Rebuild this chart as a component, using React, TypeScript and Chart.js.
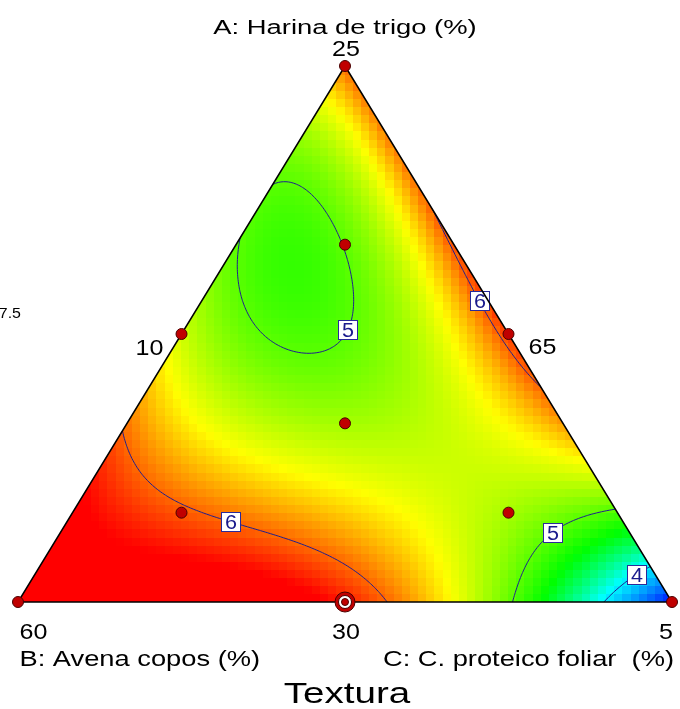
import React, { useEffect, useRef } from 'react';
import { Chart, registerables } from 'chart.js';

Chart.register(...registerables);

// Texture response read on a {3,6} simplex lattice (pseudo-components A, B, C).
// Each row keeps A fixed (row index = 6*A); entries run from the B side (C = 0) to the C side.
const rowA0 = [6.3, 6.58, 6.54, 6.2, 5.54, 4.5, 3.15];
const rowA1 = [6.45, 5.82, 5.86, 5.5, 5.2, 4.95];
const rowA2 = [5.9, 5.62, 5.38, 5.4, 5.9];
const rowA3 = [5.42, 4.8, 5.2, 6.02];
const rowA4 = [5.0, 4.98, 6.1];
const rowA5 = [5.15, 5.95];
const rowA6 = [5.95];
const latticeRows = [rowA0, rowA1, rowA2, rowA3, rowA4, rowA5, rowA6];

// Design runs (pseudo-component fractions) and number of replicates of each run.
const designA = [1, 0, 0, 0.5, 0.5, 0, 1 / 3, 2 / 3, 1 / 6, 1 / 6];
const designB = [0, 1, 0, 0.5, 0, 0.5, 1 / 3, 1 / 6, 2 / 3, 1 / 6];
const designC = [0, 0, 1, 0, 0.5, 0.5, 1 / 3, 1 / 6, 1 / 6, 2 / 3];
const designReps = [1, 1, 1, 1, 1, 2, 1, 1, 1, 1];

// Contour levels and where their labels sit along the curves.
const contourLevels = [4, 5, 6];
const labelLevel = [6, 5, 6, 5, 4];
const labelA = [0.569, 0.504, 0.155, 0.144, 0.059];
const labelB = [0.001, 0.235, 0.597, 0.118, 0.029];
const labelC = [0.43, 0.261, 0.248, 0.738, 0.912];

// Colour ramp break points: blue, cyan, green, yellow, red.
const colorStops = [3.1, 4.05, 4.7, 5.55, 6.3];
const colorRGB = [
  [0, 0, 255],
  [0, 255, 255],
  [0, 255, 0],
  [255, 255, 0],
  [255, 0, 0],
];

// Texts
const titleA = 'A: Harina de trigo (%)';
const titleB = 'B: Avena copos (%)';
const titleC = 'C: C. proteico foliar  (%)';
const responseName = 'Textura';
const tickA = '25';
const tickAB = '10';
const tickAC = '65';
const tickB = '60';
const tickBC = '30';
const tickC = '5';
const tickStray = '7.5';

const FONT = '"Liberation Sans", Arial, Helvetica, sans-serif';

// ---------- quartic Scheffé-type surface fitted by least squares ----------
const fact = (n: number): number => (n <= 1 ? 1 : n * fact(n - 1));
const terms: { i: number; j: number; k: number; m: number }[] = [];
for (let i = 4; i >= 0; i--) {
  for (let j = 4 - i; j >= 0; j--) {
    const k = 4 - i - j;
    terms.push({ i, j, k, m: fact(4) / (fact(i) * fact(j) * fact(k)) });
  }
}
const basis = (a: number, b: number, c: number) =>
  terms.map((t) => t.m * Math.pow(a, t.i) * Math.pow(b, t.j) * Math.pow(c, t.k));

function fitSurface(): number[] {
  const n = terms.length;
  const M: number[][] = Array.from({ length: n }, () => new Array(n + 1).fill(0));
  latticeRows.forEach((row, ia) => {
    row.forEach((v, ic) => {
      const a = ia / 6;
      const c = ic / 6;
      const b = 1 - a - c;
      const f = basis(a, b, c);
      for (let r = 0; r < n; r++) {
        for (let s = 0; s < n; s++) M[r][s] += f[r] * f[s];
        M[r][n] += f[r] * v;
      }
    });
  });
  for (let r = 0; r < n; r++) M[r][r] += 1e-10;
  for (let col = 0; col < n; col++) {
    let piv = col;
    for (let r = col + 1; r < n; r++) if (Math.abs(M[r][col]) > Math.abs(M[piv][col])) piv = r;
    [M[col], M[piv]] = [M[piv], M[col]];
    for (let r = 0; r < n; r++) {
      if (r === col) continue;
      const f = M[r][col] / M[col][col];
      for (let s = col; s <= n; s++) M[r][s] -= f * M[col][s];
    }
  }
  return M.map((row, r) => row[n] / row[r]);
}
const coef = fitSurface();
const predict = (a: number, b: number, c: number) => {
  const f = basis(a, b, c);
  let s = 0;
  for (let i = 0; i < f.length; i++) s += f[i] * coef[i];
  return s;
};

function rampColor(v: number): string {
  const n = colorStops.length;
  let rgb = colorRGB[0];
  if (v >= colorStops[n - 1]) rgb = colorRGB[n - 1];
  else if (v > colorStops[0]) {
    for (let s = 0; s < n - 1; s++) {
      if (v <= colorStops[s + 1]) {
        const f = (v - colorStops[s]) / (colorStops[s + 1] - colorStops[s]);
        rgb = colorRGB[s].map((c0, q) => c0 + (colorRGB[s + 1][q] - c0) * f);
        break;
      }
    }
  }
  return `rgb(${Math.round(rgb[0])},${Math.round(rgb[1])},${Math.round(rgb[2])})`;
}

// ternary -> plane: X runs B(0) to C(1) along the base, Y is the A share
const toX = (a: number, b: number, c: number) => c + a / 2;
const toY = (a: number) => a;

// plane window so the triangle lands inside the canvas with room for texts
const X_MIN = -18 / 654;
const X_MAX = X_MIN + 680 / 654;
const Y_MAX = 1 + 66 / 536;
const Y_MIN = Y_MAX - 709 / 536;

const surfacePlugin = {
  id: 'mixtureSurface',
  beforeDatasetsDraw(chart: any) {
    const { ctx } = chart;
    const xs = chart.scales.x;
    const ys = chart.scales.y;
    const px = (X: number) => xs.getPixelForValue(X);
    const py = (Y: number) => ys.getPixelForValue(Y);
    const P = (a: number, b: number, c: number) => [px(toX(a, b, c)), py(toY(a))];
    const [ax, ay] = P(1, 0, 0);
    const [bx, by] = P(0, 1, 0);
    const [cx, cy] = P(0, 0, 1);

    ctx.save();
    ctx.beginPath();
    ctx.moveTo(ax, ay);
    ctx.lineTo(bx, by);
    ctx.lineTo(cx, cy);
    ctx.closePath();
    ctx.clip();

    // coloured cells
    const nx = 80;
    const ny = 66;
    for (let j = 0; j < ny; j++) {
      for (let i = 0; i < nx; i++) {
        const X0 = i / nx, X1 = (i + 1) / nx;
        const Y0 = j / ny, Y1 = (j + 1) / ny;
        let a = (Y0 + Y1) / 2;
        let c = (X0 + X1) / 2 - a / 2;
        let b = 1 - a - c;
        a = Math.max(0, a); b = Math.max(0, b); c = Math.max(0, c);
        const s = a + b + c;
        const v = predict(a / s, b / s, c / s);
        ctx.fillStyle = rampColor(v);
        const x0 = Math.floor(px(X0)), x1 = Math.ceil(px(X1));
        const y0 = Math.floor(py(Y1)), y1 = Math.ceil(py(Y0));
        ctx.fillRect(x0, y0, x1 - x0, y1 - y0);
      }
    }

    // contour lines (marching squares)
    const gx = 260, gy = 220;
    const Xa = -0.01, Xb = 1.01, Ya = -0.01, Yb = 1.01;
    const grid: number[] = [];
    for (let j = 0; j <= gy; j++) {
      for (let i = 0; i <= gx; i++) {
        const X = Xa + ((Xb - Xa) * i) / gx;
        const Y = Ya + ((Yb - Ya) * j) / gy;
        const a = Y, c = X - Y / 2, b = 1 - a - c;
        grid.push(predict(a, b, c));
      }
    }
    const G = (i: number, j: number) => grid[j * (gx + 1) + i];
    const segs: Record<number, number[][]> = {};
    ctx.strokeStyle = '#1f1f8f';
    ctx.lineWidth = 1;
    for (const lv of contourLevels) {
      segs[lv] = [];
      ctx.beginPath();
      for (let j = 0; j < gy; j++) {
        for (let i = 0; i < gx; i++) {
          const X0 = Xa + ((Xb - Xa) * i) / gx, X1 = Xa + ((Xb - Xa) * (i + 1)) / gx;
          const Y0 = Ya + ((Yb - Ya) * j) / gy, Y1 = Ya + ((Yb - Ya) * (j + 1)) / gy;
          const v00 = G(i, j), v10 = G(i + 1, j), v11 = G(i + 1, j + 1), v01 = G(i, j + 1);
          const pts: number[][] = [];
          const edge = (va: number, vb: number, xa: number, ya: number, xb: number, yb: number) => {
            if ((va < lv) !== (vb < lv)) {
              const t = (lv - va) / (vb - va);
              pts.push([px(xa + t * (xb - xa)), py(ya + t * (yb - ya))]);
            }
          };
          edge(v00, v10, X0, Y0, X1, Y0);
          edge(v10, v11, X1, Y0, X1, Y1);
          edge(v11, v01, X1, Y1, X0, Y1);
          edge(v01, v00, X0, Y1, X0, Y0);
          for (let p = 0; p + 1 < pts.length; p += 2) {
            ctx.moveTo(pts[p][0], pts[p][1]);
            ctx.lineTo(pts[p + 1][0], pts[p + 1][1]);
            segs[lv].push([(pts[p][0] + pts[p + 1][0]) / 2, (pts[p][1] + pts[p + 1][1]) / 2]);
          }
        }
      }
      ctx.stroke();
    }
    ctx.restore();

    // contour labels, snapped onto the nearest point of their curve
    ctx.save();
    labelLevel.forEach((lv, n) => {
      const [hx, hy] = P(labelA[n], labelB[n], labelC[n]);
      let best = [hx, hy];
      let bd = Infinity;
      for (const s of segs[lv] || []) {
        const d = (s[0] - hx) ** 2 + (s[1] - hy) ** 2;
        if (d < bd) { bd = d; best = s; }
      }
      const w = 19, h = 19;
      const lx = Math.round(best[0] - w / 2) + 0.5;
      const ly = Math.round(best[1] - h / 2) + 0.5;
      ctx.fillStyle = '#ffffff';
      ctx.fillRect(lx, ly, w, h);
      ctx.strokeStyle = '#2a2a9a';
      ctx.lineWidth = 1;
      ctx.strokeRect(lx, ly, w, h);
      ctx.fillStyle = '#1a1a8c';
      ctx.font = `20px ${FONT}`;
      ctx.textAlign = 'center';
      ctx.textBaseline = 'alphabetic';
      ctx.save();
      ctx.translate(lx + w / 2, ly + h - 2.5);
      ctx.scale(1.08, 1);
      ctx.fillText(String(lv), 0, 0);
      ctx.restore();
    });
    ctx.restore();
  },
  afterDraw(chart: any) {
    const { ctx } = chart;
    const xs = chart.scales.x;
    const ys = chart.scales.y;
    const P = (a: number, b: number, c: number) => [
      xs.getPixelForValue(toX(a, b, c)),
      ys.getPixelForValue(toY(a)),
    ];
    const text = (s: string, x: number, y: number, size: number, sx: number, align: CanvasTextAlign) => {
      ctx.save();
      ctx.translate(x, y);
      ctx.scale(sx, 1);
      ctx.font = `${size}px ${FONT}`;
      ctx.fillStyle = '#000000';
      ctx.textAlign = align;
      ctx.textBaseline = 'alphabetic';
      ctx.fillText(s, 0, 0);
      ctx.restore();
    };
    const [ax, ay] = P(1, 0, 0);
    const [bx, by] = P(0, 1, 0);
    const [cx, cy] = P(0, 0, 1);
    const [abx, aby] = P(0.5, 0.5, 0);
    const [acx, acy] = P(0.5, 0, 0.5);
    const [bcx, bcy] = P(0, 0.5, 0.5);

    text(titleA, ax, ay - 32.5, 20, 1.37, 'center');
    text(tickA, ax + 1, ay - 10, 22, 1.14, 'center');
    text(tickAB, abx - 18, aby + 21, 22, 1.14, 'right');
    text(tickAC, acx + 20, acy + 20, 22, 1.14, 'left');
    text(tickStray, 21, aby - 16, 14, 1.14, 'right');
    text(tickB, bx + 1.5, by + 37, 22, 1.14, 'left');
    text(tickBC, bcx + 1, bcy + 37, 22, 1.14, 'center');
    text(tickC, cx + 1, cy + 37, 22, 1.14, 'right');
    text(titleB, bx + 1.5, by + 64, 22, 1.24, 'left');
    text(titleC, cx + 2, cy + 64, 22, 1.24, 'right');
    text(responseName, ax + 2, by + 101, 29, 1.33, 'center');
  },
};

export default function App() {
  const canvasRef = useRef<HTMLCanvasElement | null>(null);

  useEffect(() => {
    if (!canvasRef.current) return;
    const tri = [
      { x: toX(1, 0, 0), y: toY(1) },
      { x: toX(0, 1, 0), y: toY(0) },
      { x: toX(0, 0, 1), y: toY(0) },
      { x: toX(1, 0, 0), y: toY(1) },
    ];
    const runs = designA.map((a, i) => ({ x: toX(a, designB[i], designC[i]), y: toY(a), r: designReps[i] }));
    const single = runs.filter((p) => p.r === 1);
    const repeated = runs.filter((p) => p.r > 1);

    const chart = new Chart(canvasRef.current, {
      type: 'scatter',
      data: {
        datasets: [
          {
            data: tri,
            showLine: true,
            borderColor: '#000000',
            borderWidth: 1.5,
            pointRadius: 0,
            fill: false,
            order: 5,
          } as any,
          {
            data: repeated,
            pointRadius: 10,
            backgroundColor: '#c00000',
            borderColor: '#4a0000',
            borderWidth: 1,
            order: 4,
          },
          {
            data: repeated,
            pointRadius: 6.5,
            backgroundColor: '#ffffff',
            borderColor: '#4a0000',
            borderWidth: 1,
            order: 3,
          },
          {
            data: repeated,
            pointRadius: 3.5,
            backgroundColor: '#c00000',
            borderColor: '#4a0000',
            borderWidth: 1,
            order: 2,
          },
          {
            data: single,
            pointRadius: 5.5,
            backgroundColor: '#c00000',
            borderColor: '#4a0000',
            borderWidth: 1,
            order: 1,
          },
        ],
      },
      options: {
        animation: false,
        responsive: true,
        maintainAspectRatio: false,
        events: [],
        layout: { padding: 0, autoPadding: false },
        plugins: { legend: { display: false }, tooltip: { enabled: false } },
        scales: {
          x: { type: 'linear', display: false, min: X_MIN, max: X_MAX },
          y: { type: 'linear', display: false, min: Y_MIN, max: Y_MAX },
        },
      },
      plugins: [surfacePlugin],
    });
    return () => chart.destroy();
  }, []);

  return (
    <div style={{ position: 'absolute', left: 0, top: 0, width: 680, height: 709, background: '#ffffff' }}>
      <canvas ref={canvasRef} />
    </div>
  );
}
